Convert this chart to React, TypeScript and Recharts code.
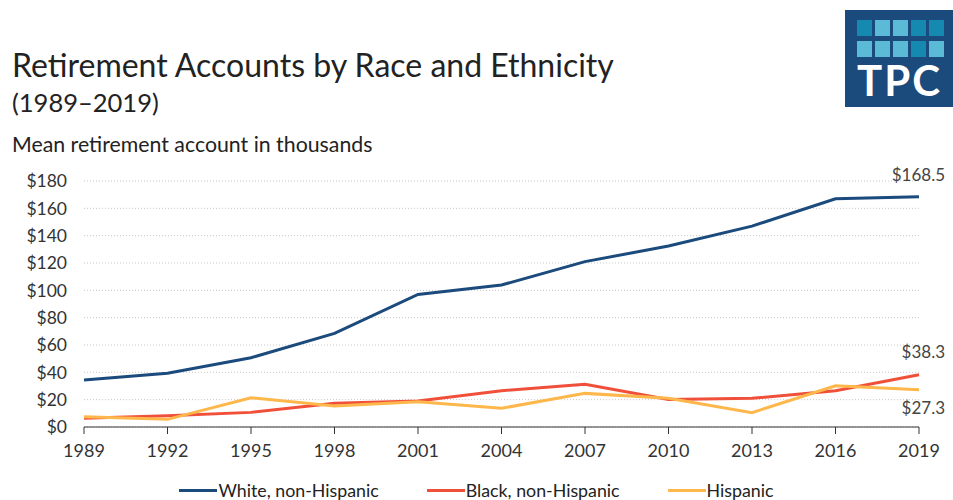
import { LineChart, Line, XAxis, YAxis, CartesianGrid, Legend, LabelList } from "recharts";

const years = [1989, 1992, 1995, 1998, 2001, 2004, 2007, 2010, 2013, 2016, 2019];
const white = [34.4, 39.3, 50.7, 68.5, 97.0, 103.9, 121.0, 132.4, 147.0, 167.0, 168.5];
const black = [6.4, 8.3, 10.7, 17.3, 19.0, 26.6, 31.2, 20.2, 21.0, 26.6, 38.3];
const hispanic = [7.5, 5.6, 21.4, 15.4, 18.5, 13.7, 24.6, 21.0, 10.5, 30.2, 27.3];
const yTicks = [0, 20, 40, 60, 80, 100, 120, 140, 160, 180];

const series = [
  { key: "white", name: "White, non-Hispanic", color: "#1b4a7d", labelDy: -22 },
  { key: "black", name: "Black, non-Hispanic", color: "#f0503a", labelDy: -23 },
  { key: "hispanic", name: "Hispanic", color: "#fdb74b", labelDy: 18 },
];

const data = years.map((year, i) => ({
  year,
  white: white[i],
  black: black[i],
  hispanic: hispanic[i],
}));

const font = "Lato, 'Open Sans', sans-serif";

const endLabel = (dy: number) => (props: any) => {
  if (props.index !== years.length - 1) return null;
  return (
    <text x={945} y={props.y} dy={dy + 6} textAnchor="end" fontSize={17} fill="#444" fontFamily={font}>
      ${Number(props.value).toFixed(1)}
    </text>
  );
};

const LegendContent = () => (
  <div style={{ display: "flex", justifyContent: "center", gap: 48, fontFamily: font, fontSize: 17.8, color: "#222", lineHeight: "20px" }}>
    {series.map((s) => (
      <div key={s.key} style={{ display: "flex", alignItems: "center" }}>
        <span style={{ display: "inline-block", width: 38, height: 3, background: s.color, marginRight: 1 }} />
        <span>{s.name}</span>
      </div>
    ))}
  </div>
);

const squares = [
  ["#1589b0", "#5bbad6", "#5bbad6", "#1589b0", "#1589b0"],
  ["#5bbad6", "#5bbad6", "#5bbad6", "#1589b0", "#5bbad6"],
];

export default function App() {
  return (
    <div style={{ position: "absolute", left: 0, top: 0, width: 953, height: 500, background: "#fff", fontFamily: font }}>
      <div style={{ position: "absolute", left: 12, top: 46, fontSize: 32, lineHeight: 1.2, color: "#222" }}>
        Retirement Accounts by Race and Ethnicity
      </div>
      <div style={{ position: "absolute", left: 12, top: 87, fontSize: 25.5, lineHeight: 1.2, color: "#222" }}>(1989–2019)</div>
      <div style={{ position: "absolute", left: 12, top: 132, fontSize: 21.3, lineHeight: 1.2, color: "#222" }}>
        Mean retirement account in thousands
      </div>
      <div style={{ position: "absolute", left: 845, top: 10, width: 108, height: 97, background: "#1b4a7d" }}>
        {squares.map((row, r) => (
          <div key={r} style={{ position: "absolute", left: 12, top: 10 + r * 21, display: "flex", gap: 3 }}>
            {row.map((c, i) => (
              <span key={i} style={{ display: "inline-block", width: 15, height: 16, background: c }} />
            ))}
          </div>
        ))}
        <div style={{ position: "absolute", left: 12, top: 45, fontSize: 42, fontWeight: 700, color: "#fff", letterSpacing: 2, lineHeight: "50px" }}>
          TPC
        </div>
      </div>
      <div style={{ position: "absolute", left: 0, top: 0 }}>
        <LineChart width={953} height={500} data={data} margin={{ top: 181, right: 34, bottom: 23, left: 12 }}>
          <CartesianGrid vertical={false} stroke="#c8c8c8" strokeDasharray="1 2" />
          <XAxis
            dataKey="year"
            tick={{ fontSize: 18, fill: "#333", fontFamily: font }}
            tickLine={{ stroke: "#333" }}
            axisLine={{ stroke: "#333" }}
            tickSize={7}
            tickMargin={10}
            interval={0}
          />
          <YAxis
            domain={[0, 180]}
            ticks={yTicks}
            width={72}
            axisLine={false}
            tickLine={false}
            tickSize={0}
            tickMargin={17}
            tickFormatter={(v: number) => `$${v}`}
            tick={{ fontSize: 17.5, fill: "#333", fontFamily: font }}
          />
          <Legend
            verticalAlign="bottom"
            height={20}
            content={<LegendContent />}
            wrapperStyle={{ top: 480, bottom: "auto", left: 0, width: 953 }}
          />
          {series.map((s) => (
            <Line
              key={s.key}
              type="linear"
              dataKey={s.key}
              name={s.name}
              stroke={s.color}
              strokeWidth={3}
              dot={false}
              isAnimationActive={false}
            >
              <LabelList dataKey={s.key} content={endLabel(s.labelDy)} />
            </Line>
          ))}
        </LineChart>
      </div>
    </div>
  );
}
